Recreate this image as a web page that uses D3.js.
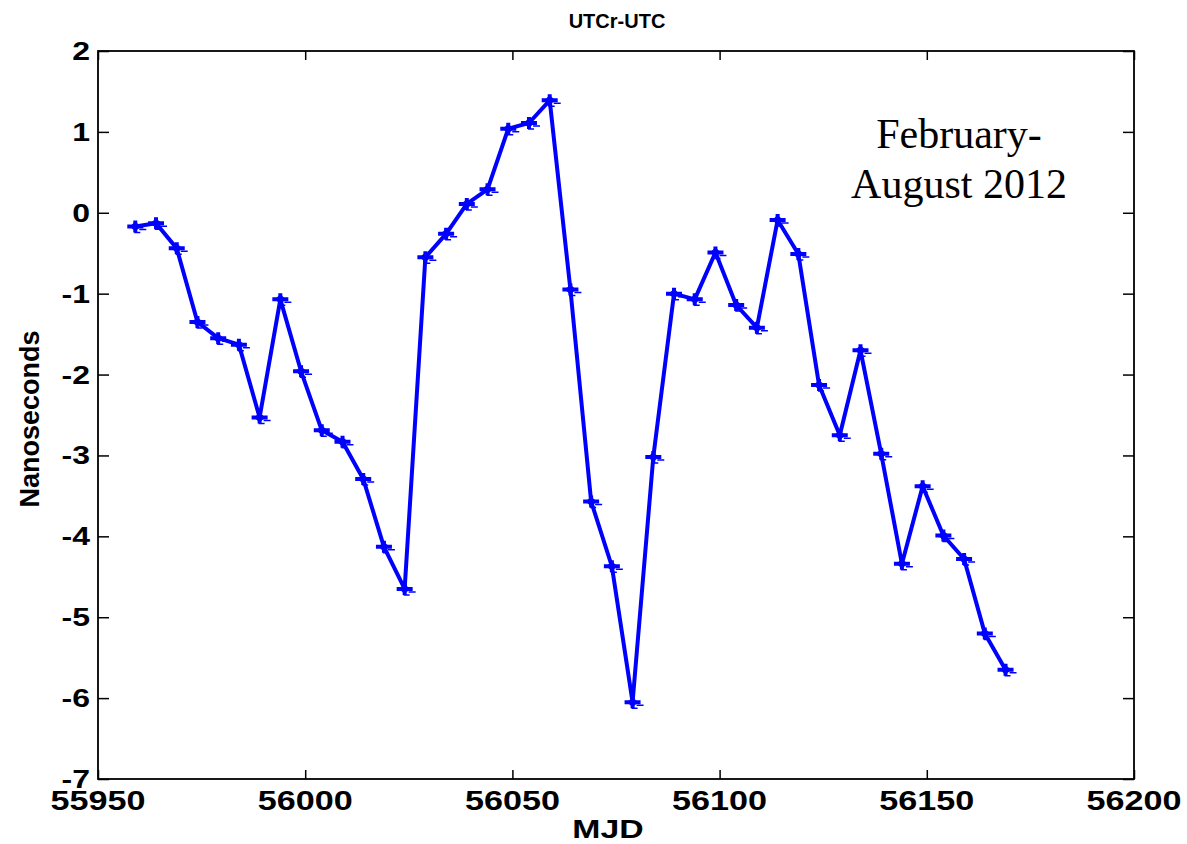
<!DOCTYPE html>
<html>
<head>
<meta charset="utf-8">
<script src="https://cdn.jsdelivr.net/npm/d3@7"></script>
<style>
  html, body { margin: 0; padding: 0; background: #fff; }
  svg { display: block; }
</style>
</head>
<body>
<svg id="chart" width="1187" height="844"></svg>
<script>
// ---- data ----
const mjd = [55959,55964,55969,55974,55979,55984,55989,55994,55999,56004,
             56009,56014,56019,56024,56029,56034,56039,56044,56049,56054,
             56059,56064,56069,56074,56079,56084,56089,56094,56099,56104,
             56109,56114,56119,56124,56129,56134,56139,56144,56149,56154,
             56159,56164,56169];
const utcrUtc = [-0.17,-0.13,-0.44,-1.35,-1.55,-1.63,-2.53,-1.07,-1.96,-2.69,
                 -2.83,-3.29,-4.13,-4.65,-0.55,-0.26,0.11,0.29,1.04,1.11,
                 1.39,-0.95,-3.57,-4.37,-6.05,-3.02,-1.00,-1.07,-0.49,-1.14,
                 -1.42,-0.09,-0.51,-2.13,-2.75,-1.70,-2.98,-4.34,-3.38,-3.99,
                 -4.28,-5.20,-5.65];
const xTicks = [55950,56000,56050,56100,56150,56200];
const yTicks = [-7,-6,-5,-4,-3,-2,-1,0,1,2];
const titleText = "UTCr-UTC";
const xLabel = "MJD";
const yLabel = "Nanoseconds";
const noteLines = ["February-", "August 2012"];

// ---- layout ----
const svg = d3.select("#chart");
const L = 98, R = 1134, T = 51, B = 779;
const x = d3.scaleLinear().domain([55950, 56200]).range([L, R]);
const y = d3.scaleLinear().domain([-7, 2]).range([B, T]);
const sans = "'Liberation Sans', Arial, sans-serif";

// stretched text helper
function stext(g, px, py, str, opts) {
  const gg = g.append("g").attr("transform", `translate(${px},${py}) scale(${opts.sx || 1},1)`);
  return gg.append("text")
    .attr("x", 0).attr("y", 0)
    .attr("text-anchor", opts.anchor || "middle")
    .attr("font-family", opts.family || sans)
    .attr("font-weight", opts.weight || "bold")
    .attr("font-size", opts.size)
    .attr("fill", "#000")
    .text(str);
}

// axes (box + inward ticks)
const axG = svg.append("g");
axG.append("g").attr("transform", `translate(0,${B})`)
  .call(d3.axisBottom(x).tickValues(xTicks).tickSize(-9).tickFormat(""))
  .call(g => g.select(".domain").remove());
axG.append("g").attr("transform", `translate(0,${T})`)
  .call(d3.axisTop(x).tickValues(xTicks).tickSize(-9).tickFormat(""))
  .call(g => g.select(".domain").remove());
axG.append("g").attr("transform", `translate(${L},0)`)
  .call(d3.axisLeft(y).tickValues(yTicks).tickSize(-11).tickFormat(""))
  .call(g => g.select(".domain").remove());
axG.append("g").attr("transform", `translate(${R},0)`)
  .call(d3.axisRight(y).tickValues(yTicks).tickSize(-11).tickFormat(""))
  .call(g => g.select(".domain").remove());
axG.selectAll(".tick line").attr("stroke", "#000").attr("stroke-width", 1.5);
axG.append("rect").attr("x", L).attr("y", T).attr("width", R - L).attr("height", B - T)
  .attr("fill", "none").attr("stroke", "#000").attr("stroke-width", 1.8);

// tick labels (plain hyphen-minus as in the reference)
const lblG = svg.append("g");
xTicks.forEach(v => stext(lblG, x(v), 810, String(v), {size: 28, sx: 1.22}));
yTicks.forEach(v => stext(lblG, 90, y(v) + 9, String(v), {size: 25, sx: 1.28, anchor: "end"}));

// titles
stext(svg, 617, 28, titleText, {size: 20, sx: 1.0});
stext(svg, 608, 838, xLabel, {size: 26, sx: 1.3});
svg.append("text")
  .attr("transform", `translate(39,${(T + B) / 2 + 4}) rotate(-90)`)
  .attr("text-anchor", "middle")
  .attr("font-family", sans).attr("font-weight", "bold").attr("font-size", 27)
  .text(yLabel);

// annotation
noteLines.forEach((s, i) => {
  svg.append("text")
    .attr("x", 959).attr("y", 148 + i * 50)
    .attr("text-anchor", "middle")
    .attr("font-family", "'Liberation Serif', 'Times New Roman', serif")
    .attr("font-size", 42)
    .attr("fill", "#000")
    .text(s);
});

// line
const pts = mjd.map((d, i) => [d, utcrUtc[i]]);
svg.append("path")
  .datum(pts)
  .attr("fill", "none")
  .attr("stroke", "#0000ff")
  .attr("stroke-width", 4)
  .attr("stroke-linejoin", "round")
  .attr("d", d3.line().x(d => x(d[0])).y(d => y(d[1])));

// markers
const mk = svg.append("g").selectAll("g").data(pts).join("g")
  .attr("transform", d => `translate(${x(d[0])},${y(d[1])})`);
mk.append("path")
  .attr("d", "M-8,0H8M0,-6V6")
  .attr("stroke", "#0000ff").attr("stroke-width", 4).attr("fill", "none");
mk.append("path")
  .attr("d", "M-5.5,0L0,-5L5.5,0L0,5Z")
  .attr("fill", "#0000ff");
mk.append("path")
  .attr("d", "M4,3H11M-1,6H5")
  .attr("stroke", "#0000ff").attr("stroke-width", 1.5).attr("fill", "none");
</script>
</body>
</html>
